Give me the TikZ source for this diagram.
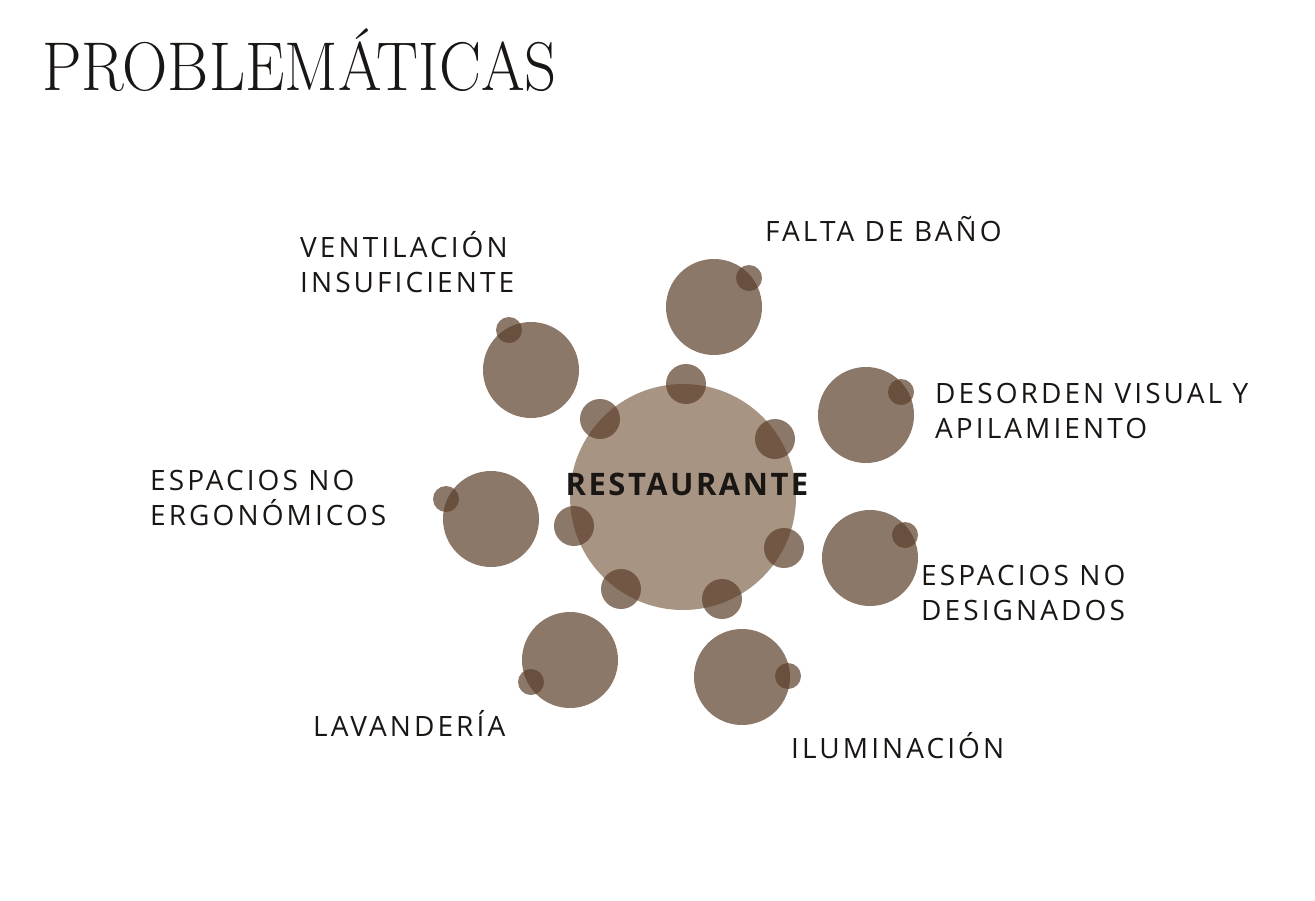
\documentclass[tikz,border=0pt]{standalone}
\usepackage{fontspec}
\usetikzlibrary{positioning}

\newfontfamily\labelfont[LetterSpace=11]{Open Sans}
\newfontfamily\centrofont[LetterSpace=8]{Open Sans}

\definecolor{cafe}{HTML}{5A3E2A}
\definecolor{cafeclaro}{HTML}{A89483}
\definecolor{tinta}{HTML}{1A1614}

\tikzset{
  mancha/.style={fill=cafe, fill opacity=0.7},
  etiqueta/.style={anchor=base west, inner sep=0pt, align=left, text=tinta,
    font=\labelfont\fontsize{28}{35}\selectfont}
}

\begin{document}
\begin{tikzpicture}[x=1pt, y=-1pt]
            \useasboundingbox (0,0) rectangle (1315,900);

            % centro
            \coordinate (rest) at (683,497);
            \fill[cafeclaro] (rest) circle (113);

            % problemas
            \coordinate (bano) at (714,307);
            \coordinate (vent) at (531,370);
            \coordinate (deso) at (866,415);
            \coordinate (ergo) at (491,519);
            \coordinate (desi) at (870,558);
            \coordinate (lava) at (570,660);
            \coordinate (ilum) at (742,677);

            \foreach \c in {bano,vent,deso,ergo,desi,lava,ilum}
                \fill[mancha] (\c) circle (48);

            % puntos chicos
            \foreach \p in {(749,278),(509,330),(901,392),(446,499),(905,535),(531,682),(788,676)}
                \fill[mancha] \p circle (13);

            \foreach \p in {(686,384),(600,419),(775,439),(574,526),(784,548),(621,589),(722,599)}
                \fill[mancha] \p circle (20);

            \node[text=tinta, inner sep=0pt, anchor=base,
                font=\centrofont\bfseries\fontsize{31}{31}\selectfont] (tRest) at (687,495) {RESTAURANTE};

            % etiquetas (base = ultima linea)
            \node[etiqueta] (tBano) at (765,241) {FALTA DE BAÑO};
            \node[etiqueta] (tVent) at (300,292) {VENTILACIÓN\\INSUFICIENTE};
            \node[etiqueta] (tDeso) at (935,438) {DESORDEN VISUAL Y\\APILAMIENTO};
            \node[etiqueta] (tErgo) at (150,525) {ESPACIOS NO\\ERGONÓMICOS};
            \node[etiqueta] (tDesi) at (921,620) {ESPACIOS NO\\DESIGNADOS};
            \node[etiqueta] (tLava) at (313,736) {LAVANDERÍA};
            \node[etiqueta] (tIlum) at (791,758) {ILUMINACIÓN};

            \node[anchor=base west, inner sep=0pt, text=tinta,
                font=\fontsize{69}{69}\selectfont] (titulo) at (42,90) {\scalebox{0.91}[1]{PROBLEMÁTICAS}};
        \end{tikzpicture}
\end{document}
